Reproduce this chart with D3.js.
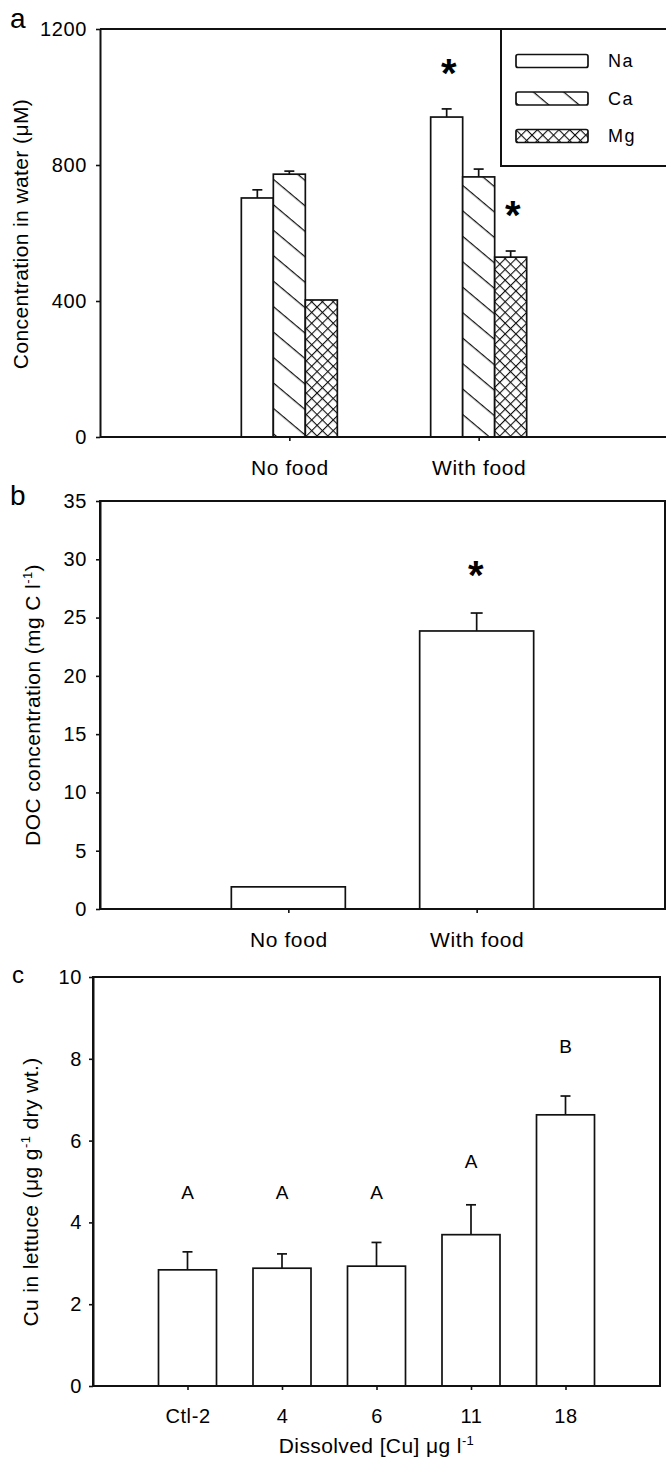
<!DOCTYPE html>
<html>
<head>
<meta charset="utf-8">
<script src="https://cdn.jsdelivr.net/npm/d3@7"></script>
<style>
  html, body { margin: 0; padding: 0; background: #fff; }
  svg { display: block; }
  text { font-family: "Liberation Sans", Arial, sans-serif; fill: #000; }
</style>
</head>
<body>
<svg id="chart" width="666" height="1460"></svg>
<script>
// ---------- Panel a data ----------
const aCategories = ["No food", "With food"];
const aSeries = ["Na", "Ca", "Mg"];
const naValues = [703, 941];
const naSE = [24, 24];
const caValues = [773, 765];
const caSE = [9, 23];
const mgValues = [403, 529];
const mgSE = [0, 18];
const aTicks = [0, 400, 800, 1200];
// asterisks: [category, series, y-value]
const aStars = [["With food", "Na", 1094], ["With food", "Mg", 676]];

// ---------- Panel b data ----------
const bCategories = ["No food", "With food"];
const docValues = [1.9, 23.85];
const docSE = [0, 1.54];
const bTicks = [0, 5, 10, 15, 20, 25, 30, 35];
const bStars = [["With food", 29.3]];

// ---------- Panel c data ----------
const cCategories = ["Ctl-2", "4", "6", "11", "18"];
const cuValues = [2.84, 2.88, 2.93, 3.70, 6.63];
const cuSE = [0.44, 0.35, 0.58, 0.73, 0.46];
const cuLetters = ["A", "A", "A", "A", "B"];
const cuLetterAt = [4.74, 4.74, 4.74, 5.48, 8.31];
const cTicks = [0, 2, 4, 6, 8, 10];

const svg = d3.select("#chart");
const INK = "#111";

// ---------- patterns ----------
const defs = svg.append("defs");
const diag = defs.append("pattern")
  .attr("id", "pat-ca").attr("patternUnits", "userSpaceOnUse")
  .attr("width", 40).attr("height", 19.5)
  .attr("patternTransform", "rotate(40)");
diag.append("rect").attr("width", 40).attr("height", 19.5).attr("fill", "#fff");
diag.append("line").attr("x1", 0).attr("x2", 40).attr("y1", 0.6).attr("y2", 0.6)
  .attr("stroke", INK).attr("stroke-width", 1.3);

const cross = defs.append("pattern")
  .attr("id", "pat-mg").attr("patternUnits", "userSpaceOnUse")
  .attr("width", 7.6).attr("height", 7.6)
  .attr("patternTransform", "rotate(45)");
cross.append("rect").attr("width", 7.6).attr("height", 7.6).attr("fill", "#fff");
cross.append("line").attr("x1", 0).attr("x2", 7.6).attr("y1", 0.5).attr("y2", 0.5)
  .attr("stroke", INK).attr("stroke-width", 1.2);
cross.append("line").attr("y1", 0).attr("y2", 7.6).attr("x1", 0.5).attr("x2", 0.5)
  .attr("stroke", INK).attr("stroke-width", 1.2);

const fills = { Na: "#fff", Ca: "url(#pat-ca)", Mg: "url(#pat-mg)" };

function styleAxis(g) {
  g.selectAll("path.domain").attr("stroke", INK).attr("stroke-width", 2);
  g.selectAll(".tick line").attr("stroke", INK).attr("stroke-width", 1.6);
  g.selectAll(".tick text").attr("font-size", 20).attr("fill", "#000")
    .attr("font-family", "'Liberation Sans', Arial, sans-serif")
    .attr("letter-spacing", "0.6px");
}

function errorBar(g, x, yBase, yTop, cap) {
  if (Math.abs(yBase - yTop) < 0.5) return;
  g.append("line").attr("x1", x).attr("x2", x).attr("y1", yBase).attr("y2", yTop)
    .attr("stroke", INK).attr("stroke-width", 1.7);
  g.append("line").attr("x1", x - cap / 2).attr("x2", x + cap / 2).attr("y1", yTop).attr("y2", yTop)
    .attr("stroke", INK).attr("stroke-width", 1.7);
}

function star(g, x, y) {
  g.append("text").attr("x", x).attr("y", y + 22)
    .attr("text-anchor", "middle")
    .attr("font-family", "'DejaVu Sans', sans-serif")
    .attr("font-weight", "bold").attr("font-size", 40).text("*");
}

function yTitle(g, x, y, build) {
  const t = g.append("text").attr("transform", `translate(${x},${y}) rotate(-90)`)
    .attr("text-anchor", "middle").attr("font-size", 21).attr("letter-spacing", "0.4px");
  build(t);
}

const fmt = d3.format("d");

// =============== Panel a ===============
{
  const g = svg.append("g");
  const L = 100, R = 668, T = 29, B = 437;
  const x = d3.scalePoint().domain(aCategories).range([L, R]).padding(1);
  const xs = d3.scaleBand().domain(aSeries).range([-48, 48]);
  const y = d3.scaleLinear().domain([0, 1200]).range([B, T]);

  const seriesVals = { Na: naValues, Ca: caValues, Mg: mgValues };
  const seriesSE = { Na: naSE, Ca: caSE, Mg: mgSE };

  aSeries.forEach(s => {
    aCategories.forEach((c, i) => {
      const v = seriesVals[s][i];
      const bx = x(c) + xs(s);
      g.append("rect").attr("x", bx).attr("y", y(v))
        .attr("width", xs.bandwidth()).attr("height", y(0) - y(v))
        .attr("fill", fills[s]).attr("stroke", INK).attr("stroke-width", 1.7);
      errorBar(g, bx + xs.bandwidth() / 2, y(v), y(v + seriesSE[s][i]), 10);
    });
  });

  // frame
  g.append("line").attr("x1", L).attr("x2", 666).attr("y1", T).attr("y2", T).attr("stroke", INK).attr("stroke-width", 2);
  g.append("line").attr("x1", L).attr("x2", 666).attr("y1", B).attr("y2", B).attr("stroke", INK).attr("stroke-width", 2);

  const ya = g.append("g").attr("transform", `translate(${L},0)`)
    .call(d3.axisLeft(y).tickValues(aTicks).tickFormat(fmt).tickSize(4).tickSizeOuter(0).tickPadding(9));
  styleAxis(ya);
  const xa = g.append("g").attr("transform", `translate(0,${B})`)
    .call(d3.axisBottom(x).tickSize(4).tickSizeOuter(0).tickPadding(19));
  xa.select("path.domain").remove();
  styleAxis(xa);
  xa.selectAll(".tick text").attr("font-size", 21);

  aStars.forEach(([c, s, v]) => star(g, x(c) + xs(s) + xs.bandwidth() / 2 + 2, y(v)));

  // legend
  const lg = g.append("g");
  lg.append("rect").attr("x", 501).attr("y", T).attr("width", 220).attr("height", 137)
    .attr("fill", "#fff").attr("stroke", INK).attr("stroke-width", 2);
  const ly = d3.scalePoint().domain(aSeries).range([61, 136]);
  aSeries.forEach(s => {
    lg.append("rect").attr("x", 516).attr("y", ly(s) - 6.5).attr("width", 72).attr("height", 13)
      .attr("rx", 2).attr("fill", fills[s]).attr("stroke", INK).attr("stroke-width", 1.7);
    lg.append("text").attr("x", 608).attr("y", ly(s)).attr("dominant-baseline", "central")
      .attr("font-size", 18).attr("letter-spacing", "1.5px").text(s);
  });

  g.append("text").attr("x", 10).attr("y", 28).attr("font-size", 28).text("a");
  yTitle(g, 28, 234, t => {
    t.append("tspan").text("Concentration in water (μM)");
  });
}

// =============== Panel b ===============
{
  const g = svg.append("g");
  const L = 100, R = 665, T = 501, B = 909;
  const x = d3.scalePoint().domain(bCategories).range([L, R]).padding(1);
  const y = d3.scaleLinear().domain([0, 35]).range([B, T]);
  const bw = 114;

  bCategories.forEach((c, i) => {
    const v = docValues[i];
    g.append("rect").attr("x", x(c) - bw / 2).attr("y", y(v))
      .attr("width", bw).attr("height", y(0) - y(v))
      .attr("fill", "#fff").attr("stroke", INK).attr("stroke-width", 1.7);
    errorBar(g, x(c), y(v), y(v + docSE[i]), 12);
  });

  g.append("rect").attr("x", L).attr("y", T).attr("width", R - L).attr("height", B - T)
    .attr("fill", "none").attr("stroke", INK).attr("stroke-width", 2);

  const ya = g.append("g").attr("transform", `translate(${L},0)`)
    .call(d3.axisLeft(y).tickValues(bTicks).tickFormat(fmt).tickSize(4).tickSizeOuter(0).tickPadding(9));
  styleAxis(ya);
  const xa = g.append("g").attr("transform", `translate(0,${B})`)
    .call(d3.axisBottom(x).tickSize(4).tickSizeOuter(0).tickPadding(19));
  xa.select("path.domain").remove();
  styleAxis(xa);
  xa.selectAll(".tick text").attr("font-size", 21);

  bStars.forEach(([c, v]) => star(g, x(c) - 1, y(v)));

  g.append("text").attr("x", 10).attr("y", 505).attr("font-size", 28).text("b");
  yTitle(g, 40, 705, t => {
    t.append("tspan").text("DOC concentration (mg C l");
    t.append("tspan").attr("font-size", 13).attr("dy", -8).text("-1");
    t.append("tspan").attr("dy", 8).text(")");
  });
}

// =============== Panel c ===============
{
  const g = svg.append("g");
  const L = 93, R = 660, T = 977, B = 1386;
  const x = d3.scalePoint().domain(cCategories).range([L, R]).padding(1);
  const y = d3.scaleLinear().domain([0, 10]).range([B, T]);
  const bw = 58;

  cCategories.forEach((c, i) => {
    const v = cuValues[i];
    g.append("rect").attr("x", x(c) - bw / 2).attr("y", y(v))
      .attr("width", bw).attr("height", y(0) - y(v))
      .attr("fill", "#fff").attr("stroke", INK).attr("stroke-width", 1.7);
    errorBar(g, x(c), y(v), y(v + cuSE[i]), 10);
    g.append("text").attr("x", x(c)).attr("y", y(cuLetterAt[i])).attr("dominant-baseline", "central")
      .attr("text-anchor", "middle").attr("font-size", 19).text(cuLetters[i]);
  });

  g.append("rect").attr("x", L).attr("y", T).attr("width", R - L).attr("height", B - T)
    .attr("fill", "none").attr("stroke", INK).attr("stroke-width", 2);

  const ya = g.append("g").attr("transform", `translate(${L},0)`)
    .call(d3.axisLeft(y).tickValues(cTicks).tickFormat(fmt).tickSize(4).tickSizeOuter(0).tickPadding(7));
  styleAxis(ya);
  const xa = g.append("g").attr("transform", `translate(0,${B})`)
    .call(d3.axisBottom(x).tickSize(4).tickSizeOuter(0).tickPadding(19));
  xa.select("path.domain").remove();
  styleAxis(xa);

  g.append("text").attr("x", 12).attr("y", 983).attr("font-size", 24).text("c");
  yTitle(g, 38, 1192, t => {
    t.append("tspan").text("Cu in lettuce (μg g");
    t.append("tspan").attr("font-size", 13).attr("dy", -8).text("-1");
    t.append("tspan").attr("dy", 8).text(" dry wt.)");
  });
  const xt = g.append("text").attr("x", (L + R) / 2).attr("y", 1453).attr("text-anchor", "middle")
    .attr("font-size", 21).attr("letter-spacing", "0.4px");
  xt.append("tspan").text("Dissolved [Cu] μg l");
  xt.append("tspan").attr("font-size", 13).attr("dy", -8).text("-1");
}
</script>
</body>
</html>
